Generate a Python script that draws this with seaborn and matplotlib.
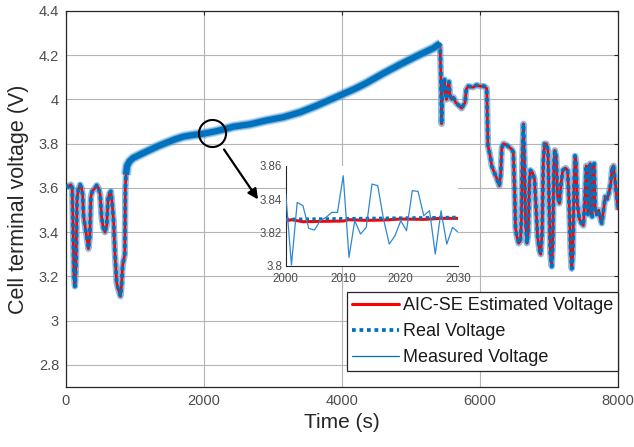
import matplotlib
matplotlib.use("Agg")
import matplotlib.pyplot as plt
import numpy as np
import pandas as pd
import seaborn as sns
from matplotlib.lines import Line2D
from matplotlib.ticker import FuncFormatter

# ---------------- data ----------------
time_s = [
    0, 40, 70, 90, 100, 115, 130, 145, 160, 180, 205, 225, 240, 255, 275, 300,
    325, 345, 360, 380, 420, 445, 470, 495, 515, 540, 565, 590, 610, 630, 650,
    665, 690, 710, 735, 760, 790, 805, 820, 840, 852, 860, 870, 885, 920, 971,
    1100, 1217, 1340, 1459, 1580, 1700, 1850, 1990, 2150, 2300, 2425, 2667,
    2900, 3150, 3391, 3633, 3800, 4005, 4200, 4357, 4599, 4841, 5082, 5324,
    5396, 5420, 5432, 5444, 5456, 5470, 5485, 5500, 5515, 5530, 5550, 5565,
    5590, 5614, 5650, 5686, 5734, 5760, 5783, 5800, 5830, 5900, 5950, 6000,
    6060, 6097, 6105, 6115, 6130, 6150, 6170, 6200, 6240, 6280, 6300, 6315,
    6340, 6380, 6420, 6460, 6483, 6500, 6515, 6535, 6560, 6585, 6600, 6615,
    6630, 6645, 6660, 6680, 6700, 6715, 6730, 6760, 6790, 6810, 6835, 6860,
    6880, 6900, 6918, 6935, 6960, 6985, 7000, 7020, 7040, 7055, 7070, 7085,
    7105, 7125, 7150, 7175, 7200, 7240, 7270, 7295, 7315, 7330, 7345, 7362,
    7377, 7392, 7410, 7440, 7470, 7498, 7520, 7540, 7555, 7565, 7580, 7598,
    7612, 7625, 7640, 7655, 7670, 7690, 7720, 7745, 7765, 7790, 7815, 7845,
    7870, 7895, 7915, 7935, 7955, 7975, 8000,
]
real_voltage = [
    3.612, 3.605, 3.615, 3.600, 3.450, 3.200, 3.155, 3.250, 3.550, 3.595,
    3.615, 3.600, 3.570, 3.470, 3.430, 3.380, 3.325, 3.380, 3.560, 3.585,
    3.600, 3.612, 3.600, 3.570, 3.470, 3.420, 3.400, 3.430, 3.550, 3.575,
    3.585, 3.540, 3.450, 3.300, 3.170, 3.140, 3.110, 3.160, 3.250, 3.280,
    3.300, 3.600, 3.660, 3.700, 3.720, 3.735,
    3.755, 3.772, 3.790, 3.805, 3.820, 3.832, 3.840, 3.845, 3.855, 3.866,
    3.877, 3.888, 3.905, 3.920, 3.942, 3.972, 3.995, 4.023, 4.050, 4.075,
    4.118, 4.158, 4.196, 4.232,
    4.248, 4.250, 4.120, 3.890, 4.080, 4.040, 4.090, 4.030, 4.000, 4.050,
    4.080, 4.020, 4.000, 4.010, 3.985, 3.975, 3.960, 3.975, 3.985, 4.045,
    4.060, 4.055, 4.065, 4.060, 4.060, 4.050, 3.950, 3.790, 3.770, 3.740,
    3.700, 3.675, 3.645, 3.610, 3.660, 3.780, 3.800, 3.795, 3.785, 3.775,
    3.760, 3.600, 3.420, 3.380, 3.350, 3.360, 3.450, 3.750, 3.890, 3.720,
    3.450, 3.350, 3.400, 3.620, 3.680, 3.670, 3.640, 3.520, 3.380, 3.320,
    3.300, 3.400, 3.720, 3.800, 3.800, 3.770, 3.550, 3.300, 3.245, 3.350,
    3.700, 3.770, 3.740, 3.560, 3.530, 3.620, 3.680, 3.690, 3.680, 3.500,
    3.300, 3.235, 3.300, 3.600, 3.745, 3.720, 3.530, 3.460, 3.440, 3.430,
    3.550, 3.700, 3.620, 3.480, 3.700, 3.710, 3.480, 3.470, 3.700, 3.710,
    3.500, 3.480, 3.500, 3.460, 3.440, 3.500, 3.560, 3.550, 3.580, 3.620,
    3.690, 3.700, 3.640, 3.580, 3.500,
]
# at full scale the AIC-SE estimate is indistinguishable from the real voltage
estimated_voltage = list(real_voltage)

# charging phase, where the measured-voltage noise band hides the model lines
charge_start_s, charge_end_s = 870, 5420

# zoomed window 2000-2030 s
zoom_time = [2000, 2001, 2002, 2003, 2004, 2005, 2006, 2007, 2008, 2009,
             2010, 2011, 2012, 2013, 2014, 2015, 2016, 2017, 2018, 2019,
             2020, 2021, 2022, 2023, 2024, 2025, 2026, 2027, 2028, 2029, 2030]
zoom_measured = [3.8434, 3.8004, 3.8380, 3.8360, 3.8224, 3.8214, 3.8270,
                 3.8290, 3.8320, 3.8320, 3.8540, 3.8050, 3.8270, 3.8190,
                 3.8230, 3.8490, 3.8480, 3.8280, 3.8130, 3.8180, 3.8270,
                 3.8210, 3.8450, 3.8446, 3.8300, 3.8330, 3.8070, 3.8330,
                 3.8130, 3.8230, 3.8200]
zoom_real_time = [2000, 2010, 2020, 2030]
zoom_real = [3.8278, 3.8282, 3.8286, 3.8290]
zoom_est_time = [2000, 2001, 2003, 2006, 2010, 2011, 2014, 2017, 2020, 2024, 2027, 2030]
zoom_est = [3.8268, 3.8276, 3.8264, 3.8266, 3.8268, 3.8276, 3.8272, 3.8274,
            3.8280, 3.8278, 3.8284, 3.8284]

x_ticks = [0, 2000, 4000, 6000, 8000]
y_ticks = [2.8, 3.0, 3.2, 3.4, 3.6, 3.8, 4.0, 4.2, 4.4]
zoom_x_ticks = [2000, 2010, 2020, 2030]
zoom_y_ticks = [3.80, 3.82, 3.84, 3.86]
legend_labels = ["AIC-SE Estimated Voltage", "Real Voltage", "Measured Voltage"]

# annotation (circle + arrow)
circle_center = (2110, 3.848)
arrow_start = (2290, 3.774)
arrow_end = (2783, 3.548)

# ---------------- style ----------------
sns.set_style("white")
plt.rcParams["font.family"] = ["Liberation Sans", "DejaVu Sans"]

BLUE = "#0072BD"
HALO = "#4a98d4"
RED = "#FF0000"
AX_COL = "#262626"
TICK_COL = "#4d4d4d"

df = pd.DataFrame({"t": time_s, "real": real_voltage, "est": estimated_voltage})
charge = df[(df.t >= charge_start_s) & (df.t <= charge_end_s)]
dyn1 = df[df.t <= charge_start_s + 15]
dyn2 = df[df.t >= charge_end_s]

fig = plt.figure(figsize=(6.34, 4.47), dpi=100)
ax = fig.add_axes([66 / 634, 1 - 387 / 447, (618 - 66) / 634, (387 - 11) / 447])


def line(data, x, y, a, **kw):
    sns.lineplot(data=data, x=x, y=y, ax=a, estimator=None, sort=False,
                 legend=False, errorbar=None, **kw)
    ln = a.lines[-1]
    ln.set_solid_capstyle("butt")
    return ln


# measured voltage halo in dynamic phases (below the model lines)
for seg in (dyn1, dyn2):
    line(seg, "t", "real", ax, color=HALO, linewidth=4.6, alpha=0.65, zorder=2)
# estimated (red) and real (dotted)
line(df, "t", "est", ax, color=RED, linewidth=1.9, zorder=3)
ln = line(df, "t", "real", ax, color=BLUE, linewidth=2.7, zorder=4)
ln.set_linestyle((0, (1, 1)))
ln.set_dash_capstyle("butt")
# measured voltage noise band during the charging phase (on top)
line(charge, "t", "real", ax, color=HALO, linewidth=7.5, alpha=0.3, zorder=5)
line(charge, "t", "real", ax, color=HALO, linewidth=6.0, alpha=0.6, zorder=5)
line(charge, "t", "real", ax, color=BLUE, linewidth=4.4, zorder=5)

ax.set_xlim(0, 8000)
ax.set_ylim(2.7, 4.4)
ax.set_xticks(x_ticks)
ax.set_yticks(y_ticks)
ax.yaxis.set_major_formatter(FuncFormatter(lambda v, p: f"{v:g}"))
ax.grid(True, color="#b4b4b4", linewidth=0.8)
ax.set_axisbelow(True)
for s in ax.spines.values():
    s.set_color(AX_COL)
    s.set_linewidth(0.9)
ax.tick_params(direction="in", length=3, width=0.8, colors=AX_COL,
               labelcolor=TICK_COL, labelsize=10.5, top=True, right=True, pad=5)
ax.set_xlabel("Time (s)", fontsize=15, color=AX_COL, labelpad=4)
ax.set_ylabel("Cell terminal voltage (V)", fontsize=15.5, color=AX_COL, labelpad=7)

# circle and arrow
ax.plot([circle_center[0]], [circle_center[1]], marker="o", ms=19.5,
        mfc="none", mec="black", mew=1.5, zorder=7)
ax.annotate("", xy=arrow_end, xytext=arrow_start,
            arrowprops=dict(arrowstyle="-|>", color="black", lw=1.6,
                            mutation_scale=15, shrinkA=0, shrinkB=0), zorder=7)

# legend
handles = [
    Line2D([], [], color=RED, linewidth=2.2),
    Line2D([], [], color=BLUE, linewidth=2.7, linestyle=(0, (1, 1)), dash_capstyle="butt"),
    Line2D([], [], color=BLUE, linewidth=0.9),
]
leg = ax.legend(handles, legend_labels, loc="lower right",
                bbox_to_anchor=(1.0, 16 / 376), borderaxespad=0, fontsize=13,
                frameon=True, fancybox=False, framealpha=1, edgecolor=AX_COL,
                handlelength=2.6, handletextpad=0.2, labelspacing=0.5,
                borderpad=0.28)
leg.get_frame().set_linewidth(0.9)
for t in leg.get_texts():
    t.set_color("#1a1a1a")
leg.set_zorder(10)

# inset
axin = fig.add_axes([285.7 / 634, 1 - 265.7 / 447, 172.6 / 634, 100 / 447])
axin.set_facecolor("white")
zm = pd.DataFrame({"t": zoom_time, "v": zoom_measured})
zr = pd.DataFrame({"t": zoom_real_time, "v": zoom_real})
ze = pd.DataFrame({"t": zoom_est_time, "v": zoom_est})
line(ze, "t", "v", axin, color=RED, linewidth=2.2, zorder=3)
lz = line(zr, "t", "v", axin, color=BLUE, linewidth=2.4, zorder=4)
lz.set_linestyle((0, (1, 1)))
line(zm, "t", "v", axin, color="#2f87cc", linewidth=0.9, zorder=5)
axin.set_xlim(2000, 2030)
axin.set_ylim(3.8, 3.86)
axin.set_xticks(zoom_x_ticks)
axin.set_yticks(zoom_y_ticks)
axin.yaxis.set_major_formatter(FuncFormatter(lambda v, p: f"{v:g}"))
axin.set_xlabel("")
axin.set_ylabel("")
axin.spines["top"].set_visible(False)
axin.spines["right"].set_visible(False)
for s in ("left", "bottom"):
    axin.spines[s].set_color(AX_COL)
    axin.spines[s].set_linewidth(0.8)
axin.tick_params(direction="in", length=2.5, width=0.7, colors=AX_COL,
                 labelcolor=TICK_COL, labelsize=8.3)
axin.tick_params(axis="x", pad=5)
axin.tick_params(axis="y", pad=2.5)

fig.savefig("out.png", dpi=100)
